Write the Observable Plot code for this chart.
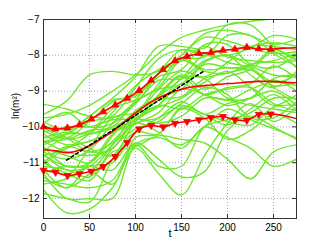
<!DOCTYPE html>
<html><head><meta charset="utf-8">
<script src="https://cdn.jsdelivr.net/npm/d3@7"></script>
<script src="https://cdn.jsdelivr.net/npm/@observablehq/plot@0.6"></script>
<style>html,body{margin:0;padding:0;background:#fff}svg{display:block}</style>
</head><body><div id="chart"></div>
<script>
// sample times of the green trajectories
const gridT = [0,25,50,75,100,125,150,175,200,225,250,275];
// green trajectories ln(m^2) at gridT
const greenRuns = [
  [-9.75,-9.65,-9.4,-9.0,-8.55,-7.95,-7.5,-7.3,-7.15,-7.05,-6.98,-6.9],
  [-9.65,-9.28,-8.55,-8.45,-8.55,-8.45,-8.0,-7.4,-7.3,-7.45,-7.7,-7.55],
  [-10.3,-10.2,-9.7,-9.2,-8.6,-7.75,-7.75,-7.8,-7.15,-7.15,-7.75,-8.15],
  [-10.5,-10.2,-9.85,-9.7,-8.9,-8.1,-7.85,-8.0,-8.0,-7.8,-7.45,-7.55],
  [-10.0,-10.3,-9.85,-9.3,-9.1,-8.5,-8.0,-7.5,-7.6,-7.8,-7.95,-7.9],
  [-9.37,-9.5,-9.7,-9.75,-9.35,-8.5,-7.85,-7.95,-7.85,-7.75,-7.65,-7.75],
  [-10.8,-10.6,-10.2,-9.6,-8.85,-8.4,-8.1,-8.05,-7.45,-7.45,-7.95,-8.3],
  [-10.4,-10.35,-10.1,-10.0,-9.25,-8.5,-8.15,-7.75,-8.05,-8.15,-8.2,-8.15],
  [-9.85,-10.1,-9.7,-9.25,-9.15,-8.6,-8.4,-7.7,-7.7,-8.25,-8.35,-8.0],
  [-10.1,-10.35,-10.2,-10.0,-9.65,-8.8,-8.1,-8.4,-8.35,-8.3,-7.85,-8.1],
  [-10.7,-10.9,-10.65,-9.9,-9.3,-8.9,-8.15,-8.45,-8.5,-8.25,-8.15,-7.95],
  [-9.9,-9.6,-10.0,-9.9,-9.35,-8.7,-8.65,-8.15,-8.0,-8.3,-8.55,-8.6],
  [-10.9,-11.35,-10.6,-9.75,-9.6,-9.15,-8.65,-8.0,-8.2,-8.35,-8.75,-8.55],
  [-10.3,-10.15,-10.2,-10.05,-9.8,-9.1,-8.55,-8.95,-8.6,-8.4,-7.9,-8.35],
  [-10.6,-10.8,-11.0,-10.25,-9.55,-9.2,-8.95,-8.25,-8.35,-8.4,-8.85,-8.75],
  [-11.0,-10.55,-10.7,-10.45,-9.85,-9.15,-8.6,-9.1,-8.9,-8.8,-8.3,-8.65],
  [-10.55,-11.1,-11.0,-10.2,-9.8,-9.4,-8.65,-8.65,-9.2,-9.2,-8.65,-8.55],
  [-10.15,-10.0,-10.0,-9.8,-9.75,-9.25,-9.15,-8.65,-8.5,-8.4,-8.9,-9.25],
  [-10.45,-10.2,-10.15,-9.5,-9.25,-8.95,-8.8,-8.2,-8.0,-8.55,-8.9,-8.45],
  [-11.05,-10.6,-10.4,-10.15,-9.7,-8.95,-8.45,-8.6,-8.2,-7.75,-7.75,-7.85],
  [-11.2,-11.7,-11.0,-10.4,-9.8,-9.45,-9.2,-8.75,-8.45,-8.9,-9.4,-9.1],
  [-10.2,-10.5,-10.4,-10.15,-9.9,-9.6,-8.95,-9.1,-9.4,-9.2,-8.7,-9.0],
  [-11.4,-11.7,-11.3,-10.5,-9.65,-9.4,-8.8,-9.1,-9.25,-8.95,-8.75,-8.85],
  [-10.7,-10.3,-10.6,-10.8,-9.85,-9.4,-9.5,-9.1,-8.95,-8.9,-9.35,-9.55],
  [-10.75,-11.2,-11.1,-10.5,-9.9,-9.75,-9.35,-8.9,-9.1,-9.75,-9.75,-9.3],
  [-11.6,-11.45,-11.1,-11.0,-10.15,-9.75,-9.3,-9.65,-9.35,-9.2,-9.0,-9.4],
  [-10.0,-10.3,-10.7,-10.6,-9.8,-9.9,-9.7,-9.2,-9.25,-9.4,-9.5,-9.6],
  [-11.1,-11.2,-11.4,-10.6,-10.05,-9.85,-9.4,-9.65,-9.95,-9.5,-9.1,-9.55],
  [-11.86,-12.0,-12.1,-10.9,-10.15,-10.2,-9.45,-9.65,-9.85,-9.95,-9.45,-9.4],
  [-11.3,-12.0,-12.0,-12.0,-10.5,-10.3,-10.5,-10.0,-9.5,-9.8,-10.05,-10.3],
  [-11.5,-11.6,-11.7,-11.5,-10.5,-11.1,-11.1,-10.0,-9.8,-9.6,-9.2,-9.2],
  [-10.8,-11.1,-11.1,-11.2,-10.45,-10.9,-11.4,-11.25,-10.1,-9.7,-10.0,-10.35],
  [-11.75,-12.4,-12.3,-11.7,-10.6,-11.3,-11.9,-10.8,-9.9,-9.35,-9.85,-9.45],
  [-11.0,-11.3,-11.5,-10.7,-10.55,-10.25,-10.35,-10.45,-10.9,-11.45,-10.7,-10.5],
  [-10.4,-10.7,-10.8,-10.6,-9.9,-10.15,-10.6,-10.0,-10.3,-10.6,-11.1,-10.9],
  [-11.3,-11.1,-11.2,-11.6,-10.3,-10.2,-9.5,-9.75,-10.35,-10.1,-9.65,-9.9]
];
// red summary curves
const markT = [0,13,26,39,52,65,78,91,104,117,130,143,156,169,182,195,208,221,234,247];
const upperY = [-10.0,-10.06,-10.03,-9.94,-9.78,-9.58,-9.39,-9.2,-8.98,-8.7,-8.4,-8.15,-8.03,-7.95,-7.92,-7.86,-7.83,-7.78,-7.82,-7.83];
const lowerY = [-11.21,-11.27,-11.36,-11.31,-11.24,-11.11,-10.83,-10.44,-10.06,-9.96,-10.0,-9.9,-9.85,-9.8,-9.74,-9.71,-9.8,-9.82,-9.65,-9.64];
const tailT = [261,275];
const upperTail = [-7.8,-7.79];
const lowerTail = [-9.68,-9.77];
const midT = [0,13,26,39,52,65,78,91,104,117,130,143,156,169,182,195,208,221,234,247,261,275];
const midY = [-10.64,-10.67,-10.72,-10.65,-10.5,-10.3,-10.07,-9.8,-9.53,-9.3,-9.13,-9.0,-8.91,-8.86,-8.83,-8.8,-8.78,-8.75,-8.73,-8.73,-8.75,-8.77];
// dashed fit
const fitT = [25,175];
const fitY = [-10.93,-8.43];
// axes
const xTicks = [0,50,100,150,200,250];
const yTicks = [-12,-11,-10,-9,-8,-7];
const xDomain = [0,275];
const yDomain = [-12.56,-7];

const W = 327, H = 246, mL = 43, mR = 31, mT = 19, mB = 28;
const innerW = W - mL - mR, innerH = H - mT - mB;

const greenRows = greenRuns.flatMap((ys, i) => ys.map((y, j) => ({t: gridT[j], y, run: i})));
const upperRows = markT.map((t, i) => ({t, y: upperY[i]}));
const lowerRows = markT.map((t, i) => ({t, y: lowerY[i]}));
const upperLine = upperRows.concat(tailT.map((t, i) => ({t, y: upperTail[i]})));
const lowerLine = lowerRows.concat(tailT.map((t, i) => ({t, y: lowerTail[i]})));
const midRows = midT.map((t, i) => ({t, y: midY[i]}));
const fitRows = fitT.map((t, i) => ({t, y: fitY[i]}));
const minus = d => (d < 0 ? "\u2212" + Math.abs(d) : String(d));
const red = "#ff0000";

const chart = Plot.plot({
  width: W, height: H,
  marginLeft: mL, marginRight: mR, marginTop: mT, marginBottom: mB,
  style: {fontFamily: "'Liberation Sans', Arial, Helvetica, sans-serif", fontSize: "10px", background: "#fff", color: "#000"},
  x: {domain: xDomain, ticks: xTicks, tickFormat: minus},
  y: {domain: yDomain, ticks: yTicks, tickFormat: minus},
  marks: [
    Plot.gridX(xTicks, {stroke: "#aaa", strokeOpacity: 1, strokeDasharray: "1,2"}),
    Plot.gridY(yTicks, {stroke: "#aaa", strokeOpacity: 1, strokeDasharray: "1,2"}),
    Plot.line(greenRows, {x: "t", y: "y", z: "run", stroke: "#6ee82a", strokeWidth: 1.4, curve: "catmull-rom", clip: true}),
    Plot.line(midRows, {x: "t", y: "y", stroke: red, strokeWidth: 1.6, curve: "catmull-rom", clip: true}),
    Plot.line(upperLine, {x: "t", y: "y", stroke: red, strokeWidth: 1.6, curve: "catmull-rom", clip: true}),
    Plot.line(lowerLine, {x: "t", y: "y", stroke: red, strokeWidth: 1.6, curve: "catmull-rom", clip: true}),
    Plot.line(fitRows, {x: "t", y: "y", stroke: "#000", strokeWidth: 1.5, strokeDasharray: "3,2.5"}),
    Plot.dot(upperRows, {x: "t", y: "y", symbol: "triangle", r: 2.6, fill: red, stroke: red, strokeWidth: 0.8}),
    Plot.dot(lowerRows, {x: "t", y: "y", symbol: "triangle", rotate: 180, r: 2.6, fill: red, stroke: red, strokeWidth: 0.8}),
    Plot.frame({stroke: "#333", strokeWidth: 1}),
    Plot.tickX(xTicks, {x: d => d, stroke: "#333", insetTop: innerH - 4}),
    Plot.tickX(xTicks, {x: d => d, stroke: "#333", insetBottom: innerH - 4}),
    Plot.tickY(yTicks, {y: d => d, stroke: "#333", insetRight: innerW - 4}),
    Plot.tickY(yTicks, {y: d => d, stroke: "#333", insetLeft: innerW - 4}),
    Plot.axisX(xTicks, {tickSize: 0, tickPadding: 5, label: null, tickFormat: minus}),
    Plot.axisY(yTicks, {tickSize: 0, tickPadding: 4, label: null, tickFormat: minus}),
    Plot.text(["t"], {frameAnchor: "bottom", dy: 18, fontSize: 11}),
    Plot.text(["ln(m\u00b2)"], {frameAnchor: "left", dx: -28, rotate: -90, fontSize: 10})
  ]
});
document.getElementById("chart").appendChild(chart);
</script>
</body></html>
